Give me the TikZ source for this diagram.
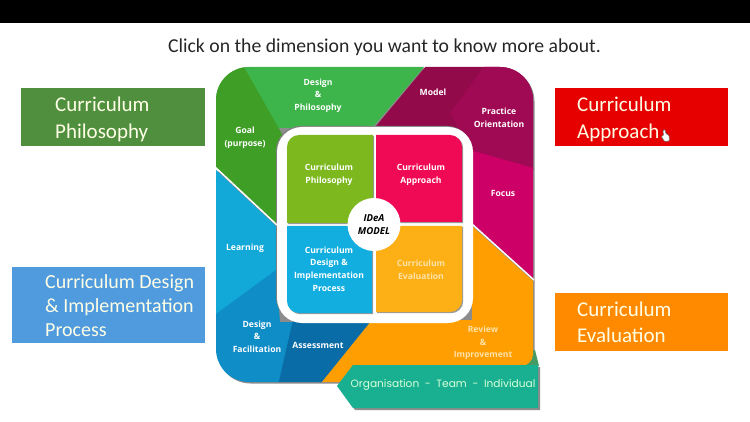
\documentclass[tikz,border=0pt]{standalone}
\usepackage{fontspec}
\setmainfont{Carlito}
\newfontfamily\labelfont{Open Sans}
\newfontfamily\bannerfont{Poppins}
\usetikzlibrary{positioning}

\definecolor{greenL}{HTML}{3DB54A}
\definecolor{greenD}{HTML}{3F9E26}
\definecolor{wineD}{HTML}{930A4B}
\definecolor{wineM}{HTML}{A00A55}
\definecolor{wineL}{HTML}{CC0066}
\definecolor{blueL}{HTML}{12A8D8}
\definecolor{blueM}{HTML}{0F8DC6}
\definecolor{blueD}{HTML}{0A6CA6}
\definecolor{orangeM}{HTML}{FF9E00}
\definecolor{paleO}{HTML}{FFE2A8}
\definecolor{boxgreen}{HTML}{4F8F3E}
\definecolor{boxred}{HTML}{E60000}
\definecolor{boxblue}{HTML}{4F9BDD}
\definecolor{boxorange}{HTML}{FF8A00}
\definecolor{panelgreen}{HTML}{7CB81E}
\definecolor{panelred}{HTML}{F00A55}
\definecolor{panelblue}{HTML}{12AEE0}
\definecolor{panelorange}{HTML}{FDB016}
\definecolor{bannergreen}{HTML}{18B090}
\definecolor{bannertip}{HTML}{469B64}

\newcommand{\outerpath}{(216,200) [rounded corners=33pt] -- (216,67) -- (533,67) -- (533,200) [sharp corners] -- (533,382) -- (300,382) [rounded corners=33pt] -- (216,382) -- cycle}

\begin{document}
\begin{tikzpicture}[x=1pt,y=-1pt]
	\tikzstyle{side}=[minimum height=58pt, inner sep=0pt, anchor=north west]
	\tikzstyle{sidetxt}=[text=white!90!yellow, align=left, inner sep=0pt, anchor=west,
	font=\fontsize{21}{26.5}\selectfont]
	\tikzstyle{lab}=[text=white, align=center, inner sep=0pt,
	font=\labelfont\bfseries\fontsize{8.6}{12.6}\selectfont]
	\tikzstyle{palelab}=[lab, text=paleO]
	\tikzstyle{panelshadow}=[fill=black!40, shift={(1.2,1.2)}]

	\useasboundingbox (0,0) rectangle (750,422);
	\fill[black] (0,0) rectangle (750,23);
	\node[inner sep=0pt, font=\fontsize{19.7}{24}\selectfont, text=black!85] (title) at (384.5,47) {Click on the dimension you want to know more about.};

	% side boxes
	\node[side, fill=boxgreen, minimum width=184pt] (philbox) at (21,88) {};
	\node[sidetxt, right=34pt of philbox.west, yshift=-2pt] (philtxt) {Curriculum\\Philosophy};
	\node[side, fill=boxred, minimum width=173pt] (apprbox) at (555,88) {};
	\node[sidetxt, right=22pt of apprbox.west, yshift=-2pt] (apprtxt) {Curriculum\\Approach};
	\node[side, fill=boxblue, minimum width=193pt, minimum height=76pt] (implbox) at (12,267) {};
	\node[sidetxt, right=33pt of implbox.west, font=\fontsize{20}{24}\selectfont] (impltxt) {Curriculum Design\\\& Implementation\\Process};
	\node[side, fill=boxorange, minimum width=173pt] (evalbox) at (555,293) {};
	\node[sidetxt, right=22pt of evalbox.west] (evaltxt) {Curriculum\\Evaluation};

	% hand cursor
	\draw[black!60, fill=white, line width=0.5pt, rounded corners=1pt] (663,130) -- (665,129.5) -- (666,134) -- (669,135) -- (669.5,141) -- (664.5,141.5) -- (661,136) -- (663.5,136) -- cycle;

	% outer square
	\fill[black!45, shift={(1.5,1.5)}] \outerpath;
	\begin{scope}
		\clip \outerpath;
		\fill[greenL] (216,60) -- (430,60) -- (372,128) -- (276,128) -- (216,128) -- cycle;
		\fill[greenD] (216,60) -- (240,60) -- (282,134) -- (278,226) -- (216,168) -- cycle;
		\fill[wineD] (431,60) -- (540,60) -- (540,172) -- (376,126) -- cycle;
		\fill[wineM] (489,60) -- (540,60) -- (540,172) -- (473,153) -- (450,113) -- cycle;
		\fill[wineL] (470,150) -- (540,170) -- (540,285) -- (470,222) -- cycle;
		\fill[blueL] (216,170) -- (276,226) -- (280,272) -- (216,316) -- cycle;
		\fill[blueM] (216,314) -- (276,270) -- (280,322) -- (295,322) -- (278,390) -- (216,390) -- cycle;
		\fill[blueD] (293,320) -- (372,320) -- (322,382) -- (277,390) -- cycle;
	\end{scope}
	\fill[bannertip] (500,350) -- (535,350) -- (539,366) -- (500,366) -- cycle;
	\fill[orangeM] (472,226) -- (533,281) [rounded corners=12pt] -- (533,366) [sharp corners] -- (360,366) -- (342,382) -- (322,382) -- (372,320) -- (472,320) -- cycle;

	% middle frame
	\fill[black!50, rounded corners=25pt] (276,126) rectangle (472,322);
	\fill[white, rounded corners=25pt] (277,127) rectangle (473,323);

	% four dimensions
	\fill[panelshadow] (287,223) [rounded corners=12pt] -- (287,135) [sharp corners] -- (373,135) -- (373,223) -- cycle;
	\fill[panelshadow] (376,135) [rounded corners=12pt] -- (462,135) [sharp corners] -- (462,222) -- (376,222) -- cycle;
	\fill[panelshadow] (287,226) -- (372,226) -- (372,313) [rounded corners=12pt] -- (287,313) [sharp corners] -- cycle;
	\fill[panelshadow] (376,226) -- (462,226) [rounded corners=12pt] -- (462,312) [sharp corners] -- (376,312) -- cycle;
	\fill[panelgreen] (287,223) [rounded corners=12pt] -- (287,135) [sharp corners] -- (373,135) -- (373,223) -- cycle;
	\fill[panelred] (376,135) [rounded corners=12pt] -- (462,135) [sharp corners] -- (462,222) -- (376,222) -- cycle;
	\fill[panelblue] (287,226) -- (372,226) -- (372,313) [rounded corners=12pt] -- (287,313) [sharp corners] -- cycle;
	\fill[panelorange] (376,226) -- (462,226) [rounded corners=12pt] -- (462,312) [sharp corners] -- (376,312) -- cycle;

	% separators
	\draw[white, line width=1.5pt] (215,167) -- (277,225);
	\draw[white, line width=1.5pt] (472,224) -- (534,280);

	% banner
	\fill[black!45] (339,388) -- (355,367) -- (540,367) -- (540,410) -- (355,410) -- cycle;
	\fill[bannergreen] (337,386) -- (353,365) -- (538,365) -- (538,408) -- (353,408) -- cycle;
	\node[inner sep=0pt, text=white!85!green, font=\bannerfont\fontsize{10.6}{12}\selectfont] (orgteam) at (443,385) {Organisation \ - \ Team \ - \ Individual};

	% centre
	\node[circle, fill=white, minimum size=53pt, inner sep=0pt, align=center, font=\labelfont\bfseries\itshape\fontsize{9.6}{12.5}\selectfont] (idea) at (374,224.5) {IDeA\\MODEL};

	% labels
	\node[lab] (design) at (318,95.5) {Design\\\&\\Philosophy};
	\node[lab] (goal) at (245,137.5) {Goal\\(purpose)};
	\node[lab] (cphil) at (329,174.5) {Curriculum\\Philosophy};
	\node[lab] (model) at (433,92) {Model};
	\node[lab] (practice) at (499,118) {Practice\\Orientation};
	\node[lab] (focus) at (503,193) {Focus};
	\node[lab] (cappr) at (421,174.5) {Curriculum\\Approach};
	\node[lab] (learning) at (245,248) {Learning};
	\node[lab] (cimpl) at (329,269) {Curriculum\\Design \&\\Implementation\\Process};
	\node[lab] (facil) at (257,336.5) {Design\\\&\\Facilitation};
	\node[lab] (assess) at (318,345) {Assessment};
	\node[palelab] (ceval) at (421,269.5) {Curriculum\\Evaluation};
	\node[palelab] (review) at (483,343) {Review\\\&\\Improvement};
\end{tikzpicture}
\end{document}
